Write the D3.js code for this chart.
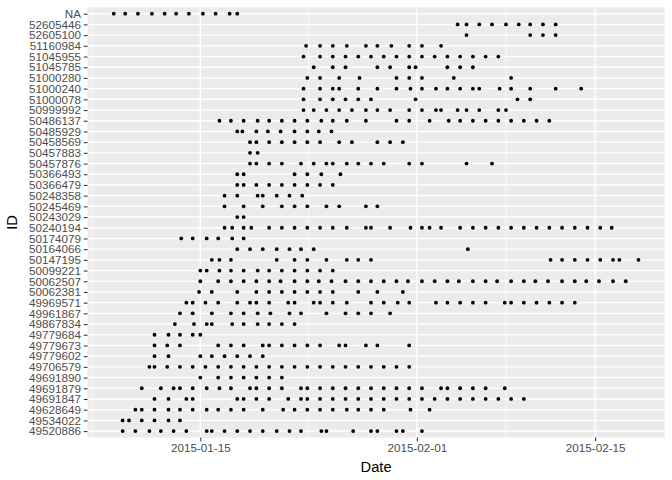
<!DOCTYPE html>
<html><head><meta charset="utf-8">
<script src="https://cdn.jsdelivr.net/npm/d3@7"></script>
<style>body{margin:0;background:#fff} svg{display:block}</style>
</head><body><svg id="c" width="672" height="480"></svg>
<script>
// Categories, top to bottom
const ids = ["NA","52605446","52605100","51160984","51045955","51045785","51000280","51000240","51000078","50999992","50486137","50485929","50458569","50457883","50457876","50366493","50366479","50248358","50245469","50243029","50240194","50174079","50164066","50147195","50099221","50062507","50062381","49969571","49961867","49867834","49779684","49779673","49779602","49706579","49691890","49691879","49691847","49628649","49534022","49520886"];

// Observation times per ID, as fractional day of January 2015 (32 = 2015-02-01)
const days = [
  [8.2, 9.1, 10.1, 11.2, 12.2, 13.1, 14.1, 15.2, 16.2, 17.3, 17.9],
  [35.2, 35.9, 36.9, 37.9, 39.0, 40.0, 40.9, 41.9, 42.9],
  [35.9, 40.9, 41.9, 42.9],
  [23.3, 24.4, 25.4, 26.5, 28.0, 28.9, 30.0, 31.4, 32.4, 33.9],
  [23.1, 24.4, 25.4, 26.4, 27.4, 28.4, 29.4, 30.4, 31.4, 32.4, 33.4, 34.4, 35.4, 36.4, 37.4, 38.4],
  [23.9, 25.4, 26.4, 28.9, 29.9, 31.4, 31.9, 34.4, 35.4, 36.4],
  [23.4, 24.4, 25.9, 27.5, 30.4, 31.4, 32.4, 34.9, 39.4],
  [23.1, 24.4, 25.4, 25.9, 27.4, 28.9, 30.4, 31.5, 32.4, 33.5, 34.4, 35.4, 36.4, 36.9, 38.5, 39.4, 40.9, 42.9, 44.9],
  [23.1, 24.4, 25.4, 26.4, 27.4, 28.4, 31.9, 39.9, 40.9],
  [23.1, 23.9, 24.9, 25.9, 26.9, 28.0, 28.9, 29.9, 31.4, 32.4, 33.5, 33.9, 35.2, 35.9, 36.9, 38.4, 39.0],
  [16.5, 17.4, 18.4, 19.5, 20.4, 21.4, 22.4, 23.4, 24.5, 25.4, 26.5, 28.0, 30.4, 31.4, 33.0, 34.5, 35.4, 36.4, 37.4, 38.4, 39.4, 40.4, 41.4, 42.4],
  [17.9, 18.3, 19.4, 20.3, 21.3, 22.4, 23.4, 24.3, 25.3],
  [18.9, 19.4, 20.4, 21.4, 22.4, 23.4, 24.4, 25.9, 26.9, 28.9, 29.9, 30.9],
  [18.9, 19.5],
  [18.9, 19.4, 20.4, 21.4, 22.9, 23.9, 24.9, 25.4, 26.5, 27.4, 28.4, 29.4, 31.4, 32.4, 35.9, 37.9],
  [17.9, 18.4, 22.4, 23.4, 24.5, 26.0],
  [17.9, 18.4, 19.4, 20.4, 21.4, 22.4, 23.4, 24.4, 25.4],
  [16.9, 17.9, 19.5, 19.9, 21.0, 22.0, 23.0],
  [16.9, 18.4, 19.9, 21.4, 22.4, 23.4, 24.9, 25.9, 28.0, 28.9],
  [17.9, 18.4],
  [16.9, 17.5, 18.4, 19.0, 20.4, 21.4, 22.4, 23.4, 24.4, 25.4, 26.5, 28.0, 28.4, 29.9, 31.5, 32.4, 33.0, 33.9, 35.4, 36.4, 37.4, 38.4, 39.4, 40.4, 41.4, 42.4, 43.4, 44.4, 45.4, 46.4, 47.3],
  [13.5, 14.4, 15.5, 16.4, 17.5, 18.4],
  [17.9, 18.9, 19.9, 21.0, 22.0, 22.9, 23.9, 36.0],
  [15.9, 16.5, 17.4, 21.0, 22.4, 23.4, 24.9, 26.5, 27.4, 28.4, 42.5, 43.4, 44.4, 45.4, 46.4, 47.4, 47.9, 49.4],
  [15.0, 15.5, 16.5, 17.4, 18.4, 19.5, 20.4, 21.4, 22.4, 23.4, 24.4, 25.4],
  [15.0, 16.4, 17.4, 18.4, 19.4, 20.4, 21.3, 22.4, 23.4, 24.3, 25.3, 26.4, 27.4, 28.4, 29.4, 30.4, 31.3, 32.4, 33.4, 34.4, 35.3, 36.4, 37.4, 38.3, 39.4, 40.4, 41.3, 42.3, 43.4, 44.4, 45.3, 46.3, 47.4, 48.4],
  [14.9, 15.9, 17.9, 19.4, 20.4, 21.4, 22.4, 23.4, 24.4, 25.4, 27.4, 28.9, 30.9],
  [13.9, 14.4, 15.4, 16.4, 17.9, 18.9, 19.4, 20.4, 21.9, 22.4, 23.9, 24.4, 25.4, 26.5, 28.4, 29.4, 30.5, 31.4, 33.5, 34.4, 35.4, 36.4, 37.4, 38.9, 39.4, 40.4, 41.4, 42.4, 43.4, 44.4],
  [13.4, 14.4, 15.9, 17.4, 18.4, 19.5, 20.5, 22.0, 22.9, 24.9, 26.4, 27.4, 28.4, 29.9],
  [13.0, 14.5, 15.5, 15.9, 17.5, 18.4, 19.5, 20.4, 21.4, 22.4],
  [11.4, 12.5, 13.4, 14.4, 15.0],
  [11.4, 12.4, 13.4, 16.4, 17.4, 18.4, 19.9, 20.4, 21.4, 22.4, 23.4, 24.4, 25.9, 26.4, 28.0, 28.9, 31.4],
  [11.4, 12.5, 15.0, 15.9, 16.9, 17.9, 18.9, 19.9],
  [11.0, 11.4, 12.4, 13.4, 14.4, 15.4, 16.4, 17.4, 18.4, 19.4, 20.4, 21.4, 22.4, 23.4, 24.4, 25.4, 26.4, 27.4, 28.4, 29.4, 30.4, 31.4],
  [15.0, 16.4, 17.4, 18.4, 19.4, 20.4, 21.4],
  [10.4, 11.9, 12.9, 13.4, 14.4, 15.5, 16.5, 17.4, 18.9, 19.4, 20.4, 21.4, 22.9, 23.4, 24.4, 25.4, 26.4, 27.4, 28.4, 29.4, 30.4, 31.4, 32.4, 33.9, 34.4, 35.4, 36.4, 37.4, 38.9],
  [11.4, 12.5, 13.9, 14.4, 17.9, 18.4, 19.4, 20.4, 21.9, 22.9, 23.4, 24.4, 25.4, 26.4, 27.4, 28.4, 29.4, 30.4, 31.4, 32.4, 33.4, 34.4, 35.4, 36.4, 37.4, 38.4, 39.4, 40.4],
  [9.9, 10.4, 11.4, 12.5, 13.4, 14.4, 15.5, 16.4, 17.4, 18.4, 19.9, 21.5, 22.4, 23.4, 24.4, 25.4, 26.5, 27.4, 28.4, 29.4, 31.5, 33.0],
  [8.9, 9.4, 10.4, 11.4, 12.5, 13.4],
  [8.9, 9.9, 11.0, 11.9, 12.9, 13.9, 15.5, 15.9, 16.9, 17.9, 18.9, 19.9, 21.0, 22.0, 22.9, 24.5, 24.9, 27.0, 28.4, 28.9, 30.4, 30.9, 32.4]
];

const tickLabels = ["2015-01-15", "2015-02-01", "2015-02-15"];
const minorDays = [6.5, 23.5, 39];
const xTitle = "Date", yTitle = "ID";

const W = 672, H = 480;
const pl = 87.5, pr = 664.7, pt = 7.3, pb = 437.5;
const FONT = "'Liberation Sans', Arial, sans-serif";
const dayMs = 864e5;
const toDate = d => new Date(Date.UTC(2015, 0, 1) + (d - 1) * dayMs);

const all = days.flat();
const mn = d3.min(all), mx = d3.max(all), pad = (mx - mn) * 0.05;
const x = d3.scaleUtc().domain([toDate(mn - pad), toDate(mx + pad)]).range([pl, pr]);
const y = d3.scalePoint().domain(ids).range([pt, pb]).padding(0.6);

const svg = d3.select("#c");
svg.append("rect").attr("width", W).attr("height", H).attr("fill", "#fff");
svg.append("rect").attr("x", pl).attr("y", pt).attr("width", pr - pl).attr("height", pb - pt).attr("fill", "#EBEBEB");

const g = svg.append("g");
// minor vertical grid
g.selectAll("line.minor").data(minorDays.map(toDate).filter(d => x(d) >= pl && x(d) <= pr))
  .join("line").attr("class", "minor")
  .attr("x1", d => x(d)).attr("x2", d => x(d)).attr("y1", pt).attr("y2", pb)
  .attr("stroke", "#fff").attr("stroke-width", 0.71);
// major vertical grid
const tickDates = tickLabels.map(s => new Date(s + "T00:00:00Z"));
g.selectAll("line.majx").data(tickDates).join("line").attr("class", "majx")
  .attr("x1", d => x(d)).attr("x2", d => x(d)).attr("y1", pt).attr("y2", pb)
  .attr("stroke", "#fff").attr("stroke-width", 1.42);
// horizontal grid
g.selectAll("line.majy").data(ids).join("line").attr("class", "majy")
  .attr("x1", pl).attr("x2", pr).attr("y1", d => y(d)).attr("y2", d => y(d))
  .attr("stroke", "#fff").attr("stroke-width", 1.42);

// points
const pts = [];
ids.forEach((id, i) => days[i].forEach(d => pts.push({id, t: toDate(d)})));
svg.append("g").selectAll("circle").data(pts).join("circle")
  .attr("cx", d => x(d.t)).attr("cy", d => y(d.id)).attr("r", 1.9).attr("fill", "#000");

// axes
const xa = svg.append("g").attr("transform", `translate(0,${pb})`)
  .call(d3.axisBottom(x).tickValues(tickDates).tickFormat(d3.utcFormat("%Y-%m-%d")).tickSize(3.67).tickPadding(2.9));
const ya = svg.append("g").attr("transform", `translate(${pl},0)`)
  .call(d3.axisLeft(y).tickSize(3.67).tickPadding(2.9));
[xa, ya].forEach(a => {
  a.select(".domain").remove();
  a.selectAll(".tick line").attr("stroke", "#333").attr("stroke-width", 1.07);
  a.selectAll(".tick text").attr("fill", "#4D4D4D").style("font-family", FONT).style("font-size", "11.7px");
});

svg.append("text").attr("x", (pl + pr) / 2).attr("y", 472).attr("text-anchor", "middle")
  .style("font-family", FONT).style("font-size", "14.7px").attr("fill", "#000").text(xTitle);
svg.append("text").attr("transform", `translate(17,${(pt + pb) / 2}) rotate(-90)`).attr("text-anchor", "middle")
  .style("font-family", FONT).style("font-size", "14.7px").attr("fill", "#000").text(yTitle);
</script></body></html>
